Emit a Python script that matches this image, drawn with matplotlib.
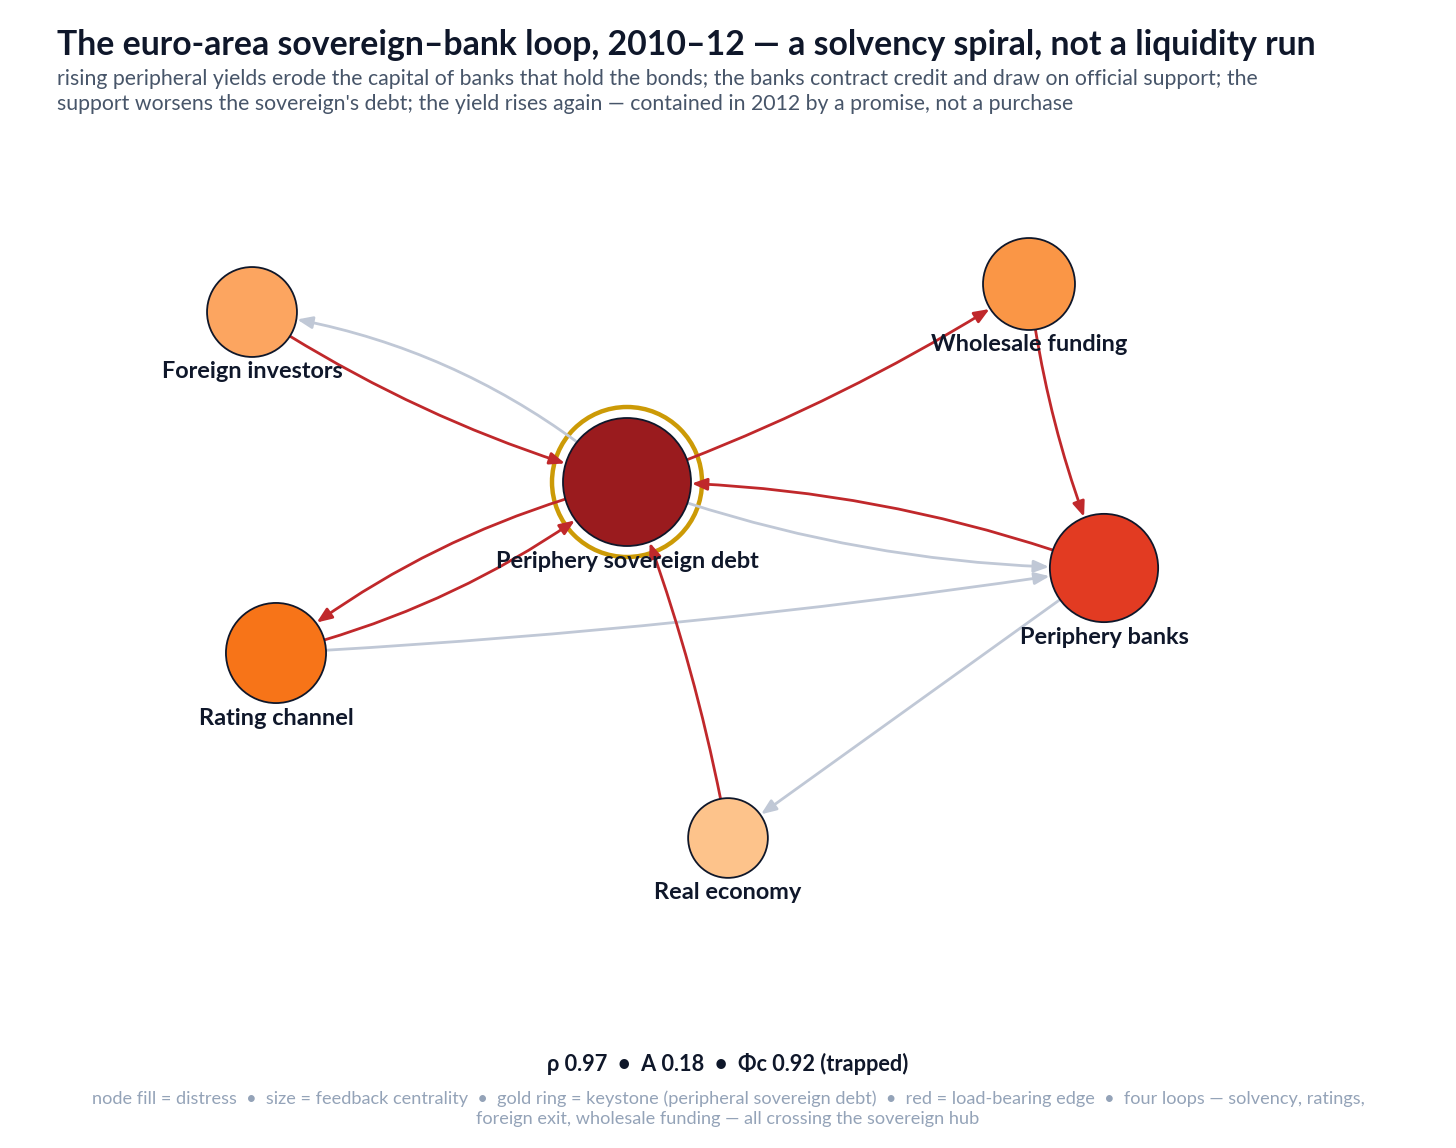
import matplotlib
matplotlib.use("Agg")
import matplotlib.pyplot as plt
from matplotlib.patches import Circle, FancyArrowPatch

plt.rcParams['font.family'] = ['Lato', 'DejaVu Sans']

# ---------------- data ----------------
nodes = ["Periphery sovereign debt", "Periphery banks", "Rating channel",
         "Wholesale funding", "Foreign investors", "Real economy"]
# layout positions (figure pixel space)
node_x = [627, 1104, 276, 1029, 252, 728]
node_y = [482, 568, 653, 284, 312, 838]
# feedback centrality (drives node size)
centrality = [1.00, 0.71, 0.59, 0.47, 0.44, 0.29]
keystone = "Periphery sovereign debt"

edge_src = ["Foreign investors", "Periphery sovereign debt", "Periphery sovereign debt",
            "Wholesale funding", "Periphery banks", "Periphery sovereign debt",
            "Periphery sovereign debt", "Rating channel", "Rating channel",
            "Periphery banks", "Real economy"]
edge_dst = ["Periphery sovereign debt", "Foreign investors", "Wholesale funding",
            "Periphery banks", "Periphery sovereign debt", "Periphery banks",
            "Rating channel", "Periphery sovereign debt", "Periphery banks",
            "Real economy", "Periphery sovereign debt"]
load_bearing = [True, False, True, True, True, False, True, True, False, False, True]

title = "The euro-area sovereign\u2013bank loop, 2010\u201312 \u2014 a solvency spiral, not a liquidity run"
subtitle = ("rising peripheral yields erode the capital of banks that hold the bonds; the banks contract credit and draw on official support; the\n"
            "support worsens the sovereign's debt; the yield rises again \u2014 contained in 2012 by a promise, not a purchase")
stats = "\u03c1 0.97  \u2022  A 0.18  \u2022  \u03a6c 0.92 (trapped)"
footer = ("node fill = distress  \u2022  size = feedback centrality  \u2022  gold ring = keystone (peripheral sovereign debt)  \u2022  red = load-bearing edge  \u2022  four loops \u2014 solvency, ratings,\n"
          "foreign exit, wholesale funding \u2014 all crossing the sovereign hub")

# ---------------- styles ----------------
node_fill = ["#9a1b1e", "#e23b22", "#f77418", "#fa9646", "#fca560", "#fdc38b"]
edge_rad = [0.08, 0.15, 0.06, 0.07, 0.09, 0.09, 0.11, 0.11, 0.025, 0.0, 0.05]
RED = "#c0282b"
GRAY = "#c0c8d6"
GOLD = "#cc9a06"
INK = "#0f172a"

W, H = 1456, 1148
fig = plt.figure(figsize=(W / 100, H / 100), dpi=100)
ax = fig.add_axes([0, 0, 1, 1])
ax.set_xlim(0, W)
ax.set_ylim(H, 0)
ax.set_aspect('equal')
ax.axis('off')

radius = [30 + 34 * c for c in centrality]
idx = {n: i for i, n in enumerate(nodes)}

circles = []
for i, n in enumerate(nodes):
    c = Circle((node_x[i], node_y[i]), radius[i], facecolor=node_fill[i],
               edgecolor=INK, lw=1.3, zorder=3)
    ax.add_patch(c)
    circles.append(c)
    if n == keystone:
        ax.add_patch(Circle((node_x[i], node_y[i]), radius[i] + 11, facecolor='none',
                            edgecolor=GOLD, lw=3.2, zorder=1.5))

for s, d, lb, rad in zip(edge_src, edge_dst, load_bearing, edge_rad):
    a, b = idx[s], idx[d]
    arr = FancyArrowPatch((node_x[a], node_y[a]), (node_x[b], node_y[b]),
                          patchA=circles[a], patchB=circles[b],
                          shrinkA=0, shrinkB=1,
                          connectionstyle=f"arc3,rad={rad}",
                          arrowstyle="-|>,head_length=0.45,head_width=0.18",
                          mutation_scale=20, color=RED if lb else GRAY,
                          lw=2.0, zorder=2)
    ax.add_patch(arr)

for i, n in enumerate(nodes):
    ax.text(node_x[i], node_y[i] + radius[i] + 15, n, ha='center', va='center',
            fontsize=16.9, fontweight='bold', color=INK, zorder=5)

fig.text(57 / W, 1 - 45 / H, title, ha='left', va='center', fontsize=24.3,
         fontweight='bold', color=INK)
fig.text(57 / W, 1 - 91.5 / H, subtitle, ha='left', va='center', fontsize=15.3,
         color="#475569", linespacing=1.3)
fig.text(728 / W, 1 - 1064 / H, stats, ha='center', va='center', fontsize=15.7,
         fontweight='bold', color=INK)
fig.text(728 / W, 1 - 1108.5 / H, footer, ha='center', va='center', fontsize=13.1,
         color="#94a3b8", linespacing=1.35)

fig.savefig("out.png", dpi=100, facecolor='white')
